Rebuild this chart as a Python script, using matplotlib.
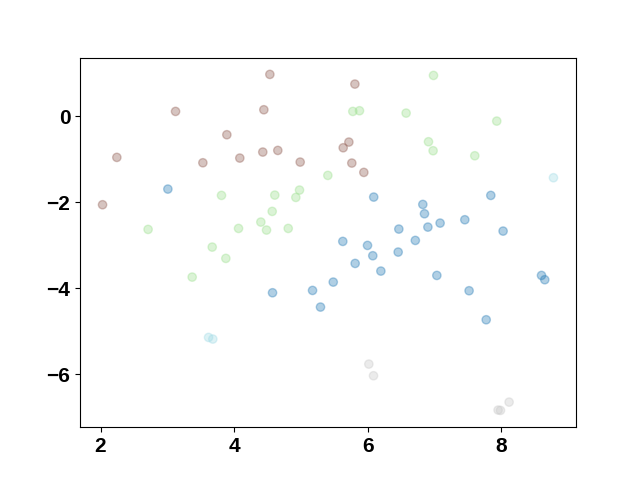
import matplotlib
matplotlib.use("Agg")
import matplotlib.pyplot as plt
from matplotlib.ticker import MultipleLocator
import numpy as np

x0 = [3.008, 4.575, 5.174, 5.293, 5.484, 6.090, 7.843, 6.825, 6.850, 7.084, 7.454,
      6.901, 6.466, 8.027, 6.713, 5.627, 5.997, 6.076, 6.456, 5.812, 6.197, 7.035,
      7.518, 7.774, 8.602, 8.651]
y0 = [-1.690, -4.101, -4.047, -4.434, -3.853, -1.876, -1.837, -2.047, -2.264, -2.481, -2.403,
      -2.574, -2.620, -2.667, -2.884, -2.907, -3.000, -3.240, -3.155, -3.419, -3.597, -3.698,
      -4.054, -4.729, -3.698, -3.798]

x1 = [5.403, 3.811, 4.609, 4.979, 4.924, 4.570, 4.400, 4.485, 4.066, 4.810, 2.712,
      3.672, 3.876, 3.372, 6.985, 5.777, 5.877, 6.575, 7.932, 6.910, 6.979, 7.603]
y1 = [-1.372, -1.837, -1.830, -1.713, -1.884, -2.209, -2.457, -2.643, -2.605, -2.605, -2.628,
      -3.039, -3.302, -3.737, 0.953, 0.116, 0.132, 0.077, -0.109, -0.589, -0.798, -0.915]

x2 = [4.535, 3.123, 4.445, 3.891, 2.244, 3.532, 4.085, 4.429, 4.654, 4.989, 2.030,
      5.808, 5.718, 5.633, 5.762, 5.942]
y2 = [0.977, 0.116, 0.155, -0.426, -0.953, -1.078, -0.969, -0.829, -0.791, -1.062, -2.054,
      0.752, -0.597, -0.729, -1.085, -1.302]

x3 = [6.017, 6.087, 8.117, 7.952, 7.988]
y3 = [-5.760, -6.031, -6.644, -6.829, -6.837]

x4 = [3.617, 3.681, 8.781]
y4 = [-5.140, -5.178, -1.426]

xs = [x0, x1, x2, x3, x4]
ys = [y0, y1, y2, y3, y4]

x = np.concatenate([np.array(a) for a in xs])
y = np.concatenate([np.array(a) for a in ys])
labels = np.concatenate([np.full(len(a), i) for i, a in enumerate(xs)])

plt.rcParams['font.family'] = ['Liberation Sans', 'DejaVu Sans']
fig, ax = plt.subplots(figsize=(6.4, 4.8), dpi=100)
ax.scatter(x, y, c=labels, cmap='tab20', alpha=0.35)
ax.xaxis.set_major_locator(MultipleLocator(2))
ax.yaxis.set_major_locator(MultipleLocator(2))
for lab in ax.get_xticklabels() + ax.get_yticklabels():
    lab.set_fontsize(15)
    lab.set_fontweight('bold')
fig.savefig("out.png")
